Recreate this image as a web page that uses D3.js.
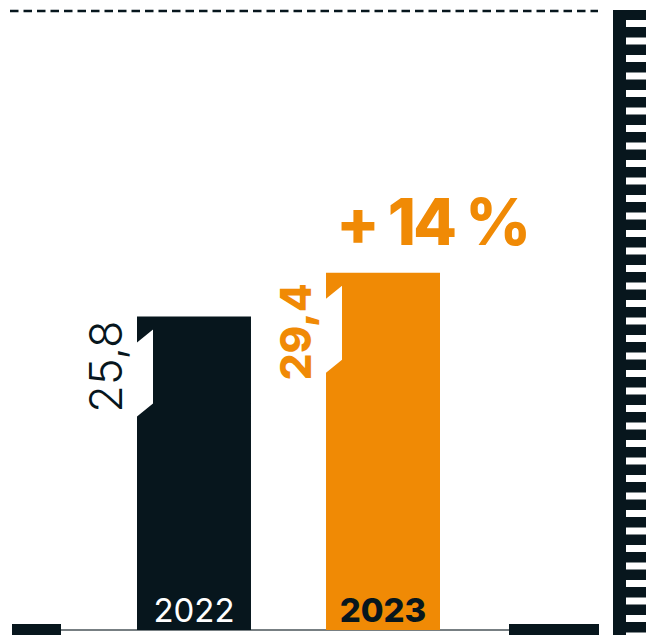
<!DOCTYPE html>
<html>
<head>
<meta charset="utf-8">
<script src="https://cdn.jsdelivr.net/npm/d3@7"></script>
<style>
  body { margin: 0; background: #fff; }
  svg { display: block; }
</style>
</head>
<body>
<svg id="chart" width="646" height="635"></svg>
<script>
// data
const years = ["2022", "2023"];
const values = [25.8, 29.4];
const valueLabels = ["25,8", "29,4"];
const changeLabel = "+ 14 %";

const DARK = "#07161d",
      ORANGE = "#f08a05",
      FONT = "Inter, 'Noto Sans', sans-serif";

let svg = d3.select("#chart"),
    width = +svg.attr("width"),
    height = +svg.attr("height");

const baseY = 630;

let x = d3.scaleBand()
          .domain(years)
          .range([42.5, 534.5])
          .paddingInner(0.397)
          .paddingOuter(0.5);

let y = d3.scaleLinear()
          .domain([0, 50])
          .range([baseY, baseY - 12.15 * 50]);

// top dashed line
svg.append("line")
   .attr("x1", 10).attr("x2", 598)
   .attr("y1", 11).attr("y2", 11)
   .attr("stroke", DARK)
   .attr("stroke-width", 2.5)
   .attr("stroke-dasharray", "8.5,5");

// right ladder
let ladder = svg.append("g");
ladder.append("rect")
   .attr("x", 613).attr("y", 10)
   .attr("width", 33).attr("height", height - 10)
   .attr("fill", DARK);
ladder.selectAll("rect.gap")
   .data(d3.range(20, height, 17.5))
   .enter().append("rect")
   .attr("class", "gap")
   .attr("x", 626).attr("y", (d) => d)
   .attr("width", 20).attr("height", 7)
   .attr("fill", "#fff");

// baseline
svg.append("line")
   .attr("x1", 40).attr("x2", 540)
   .attr("y1", baseY).attr("y2", baseY)
   .attr("stroke", "#4a5458")
   .attr("stroke-width", 1.5);
svg.append("rect")
   .attr("x", 12).attr("y", 624)
   .attr("width", 49).attr("height", 11)
   .attr("fill", DARK);
svg.append("rect")
   .attr("x", 509).attr("y", 624)
   .attr("width", 90).attr("height", 11)
   .attr("fill", DARK);

// bars with a notch on the left side
const notch = { top: 13, slope: 13, depth: 16, len: 74 };
const labelShift = [50, 59];
let bars = svg.selectAll("g.bar")
   .data(years)
   .enter().append("g")
   .attr("class", "bar");

bars.append("path")
   .attr("fill", (d, i) => i === 0 ? DARK : ORANGE)
   .attr("d", (d, i) => {
       let x0 = x(d), x1 = x(d) + x.bandwidth(), t = y(values[i]);
       let a = t + notch.top, b = a + notch.len;
       return "M" + x0 + "," + t +
              "H" + x1 + "V" + baseY + "H" + x0 +
              "V" + (b + notch.slope) +
              "L" + (x0 + notch.depth) + "," + b +
              "V" + a +
              "L" + x0 + "," + (a + notch.slope) + "Z";
   });

// value labels, rotated
bars.append("text")
   .attr("transform", (d, i) => "translate(" + (x(d) - 15) + "," +
         (y(values[i]) + labelShift[i]) + ") rotate(-90)")
   .attr("text-anchor", "middle")
   .attr("font-family", FONT)
   .attr("font-size", (d, i) => i === 0 ? 45 : 42)
   .attr("font-weight", (d, i) => i === 0 ? 300 : 800)
   .attr("fill", (d, i) => i === 0 ? DARK : ORANGE)
   .text((d, i) => valueLabels[i]);

// year labels inside bar bottoms
bars.append("text")
   .attr("x", (d) => x(d) + x.bandwidth() / 2)
   .attr("y", 622)
   .attr("text-anchor", "middle")
   .attr("font-family", FONT)
   .attr("font-size", 33)
   .attr("font-weight", (d, i) => i === 0 ? 400 : 800)
   .attr("fill", (d, i) => i === 0 ? "#fff" : DARK)
   .text((d) => d);

// change label
svg.append("text")
   .attr("x", 432)
   .attr("y", 245)
   .attr("text-anchor", "middle")
   .attr("font-family", FONT)
   .attr("font-size", 64)
   .attr("font-weight", 800)
   .attr("letter-spacing", -3)
   .attr("fill", ORANGE)
   .text(changeLabel);
</script>
</body>
</html>
